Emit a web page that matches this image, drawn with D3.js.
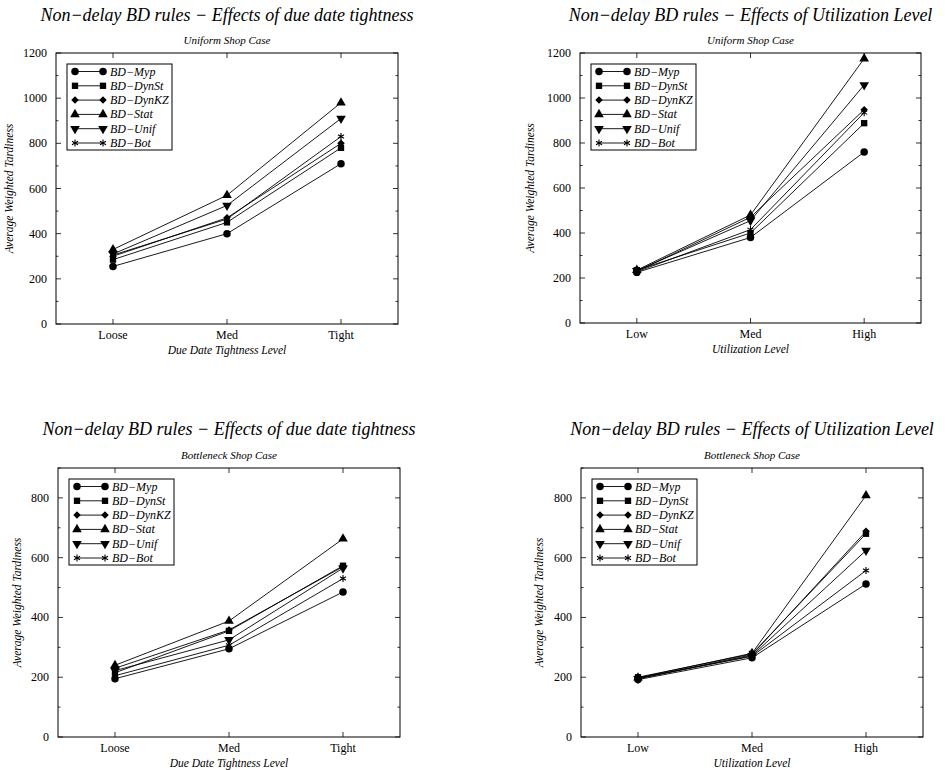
<!DOCTYPE html>
<html>
<head>
<meta charset="utf-8">
<script src="https://cdn.jsdelivr.net/npm/d3@7/dist/d3.min.js"></script>
<style>
  body { margin: 0; background: #fff; }
</style>
</head>
<body>
<div id="chart"></div>
<script>
// ---- data ----
var rules = ["BD\u2212Myp", "BD\u2212DynSt", "BD\u2212DynKZ", "BD\u2212Stat", "BD\u2212Unif", "BD\u2212Bot"];
var dueLevels = ["Loose", "Med", "Tight"];
var utilLevels = ["Low", "Med", "High"];

// Uniform shop, due date tightness (Loose, Med, Tight) per rule
var uniformDue = [
  [255, 400, 710],
  [285, 450, 780],
  [300, 470, 800],
  [330, 570, 980],
  [310, 525, 910],
  [305, 465, 830]
];
// Uniform shop, utilization (Low, Med, High)
var uniformUtil = [
  [225, 380, 760],
  [235, 400, 888],
  [230, 470, 948],
  [235, 480, 1175],
  [232, 455, 1058],
  [228, 415, 935]
];
// Bottleneck shop, due date tightness
var bottleDue = [
  [195, 295, 485],
  [215, 355, 573],
  [230, 358, 570],
  [240, 388, 663],
  [222, 325, 565],
  [205, 307, 530]
];
// Bottleneck shop, utilization
var bottleUtil = [
  [192, 265, 512],
  [200, 278, 680],
  [195, 275, 688],
  [198, 280, 808],
  [195, 272, 624],
  [197, 270, 557]
];

var panels = [
  {left: 56, top: 53, right: 398, bottom: 324, ymax: 1200, cats: dueLevels, data: uniformDue,
   title: "Non\u2212delay BD rules \u2212 Effects of due date tightness", sub: "Uniform Shop Case",
   xlab: "Due Date Tightness Level", titleY: 21, ylabX: 13},
  {left: 580, top: 53, right: 921, bottom: 323, ymax: 1200, cats: utilLevels, data: uniformUtil,
   title: "Non\u2212delay BD rules \u2212 Effects of Utilization Level", sub: "Uniform Shop Case",
   xlab: "Utilization Level", titleY: 21, ylabX: 534},
  {left: 58, top: 468, right: 400, bottom: 737, ymax: 900, cats: dueLevels, data: bottleDue,
   title: "Non\u2212delay BD rules \u2212 Effects of due date tightness", sub: "Bottleneck Shop Case",
   xlab: "Due Date Tightness Level", titleY: 435, ylabX: 21},
  {left: 581, top: 468, right: 923, bottom: 737, ymax: 900, cats: utilLevels, data: bottleUtil,
   title: "Non\u2212delay BD rules \u2212 Effects of Utilization Level", sub: "Bottleneck Shop Case",
   xlab: "Utilization Level", titleY: 435, ylabX: 543}
];

var symbols = [d3.symbolCircle, d3.symbolSquare, d3.symbolDiamond2, d3.symbolTriangle, d3.symbolTriangle, d3.symbolAsterisk];
var symSizes = [44, 40, 36, 40, 40, 34];

var svg = d3.select("#chart").append("svg")
    .attr("width", 945)
    .attr("height", 770)
    .attr("font-family", "'Liberation Serif', 'Times New Roman', 'DejaVu Serif', serif");

function marker(g, i, x, y) {
  var m = g.append("path")
      .attr("d", d3.symbol().type(symbols[i]).size(symSizes[i])())
      .attr("transform", "translate(" + x + "," + y + ")" + (i == 4 ? "rotate(180)" : ""));
  if (i == 5) m.attr("fill", "none").attr("stroke", "#000").attr("stroke-width", 1.1);
  else m.attr("fill", "#000");
}

panels.forEach(function(p) {
  var g = svg.append("g");
  var cx = (p.left + p.right) / 2;

  var x = d3.scalePoint().domain(p.cats).range([p.left, p.right]).padding(0.5);
  var y = d3.scaleLinear().domain([0, p.ymax]).range([p.bottom, p.top]);

  // titles
  g.append("text").attr("x", cx).attr("y", p.titleY)
      .attr("text-anchor", "middle").attr("font-style", "italic").attr("font-size", "18px")
      .text(p.title);
  g.append("text").attr("x", cx).attr("y", p.top - 9)
      .attr("text-anchor", "middle").attr("font-style", "italic").attr("font-size", "11px")
      .text(p.sub);

  // frame
  g.append("rect").attr("x", p.left).attr("y", p.top)
      .attr("width", p.right - p.left).attr("height", p.bottom - p.top)
      .attr("fill", "none").attr("stroke", "#000").attr("stroke-width", 1);

  // y ticks (inward, mirrored), minor every 100
  var minor = d3.range(0, p.ymax + 1, 100);
  g.selectAll("line.ytick").data(minor).enter().append("line")
      .attr("x1", p.left).attr("x2", function(d) { return p.left + (d % 200 ? 2.5 : 5); })
      .attr("y1", function(d) { return y(d); }).attr("y2", function(d) { return y(d); })
      .attr("stroke", "#000").attr("stroke-width", 0.8);
  g.selectAll("line.ytick2").data(minor).enter().append("line")
      .attr("x1", p.right).attr("x2", function(d) { return p.right - (d % 200 ? 2.5 : 5); })
      .attr("y1", function(d) { return y(d); }).attr("y2", function(d) { return y(d); })
      .attr("stroke", "#000").attr("stroke-width", 0.8);
  g.selectAll("text.ylab").data(d3.range(0, p.ymax + 1, 200)).enter().append("text")
      .attr("x", p.left - 9).attr("y", function(d) { return y(d) + 4; })
      .attr("text-anchor", "end").attr("font-size", "12px")
      .text(function(d) { return d; });

  // x ticks
  p.cats.forEach(function(c) {
    g.append("line").attr("x1", x(c)).attr("x2", x(c)).attr("y1", p.bottom).attr("y2", p.bottom - 5)
        .attr("stroke", "#000").attr("stroke-width", 0.8);
    g.append("line").attr("x1", x(c)).attr("x2", x(c)).attr("y1", p.top).attr("y2", p.top + 5)
        .attr("stroke", "#000").attr("stroke-width", 0.8);
    g.append("text").attr("x", x(c)).attr("y", p.bottom + 15)
        .attr("text-anchor", "middle").attr("font-size", "12px").text(c);
  });

  // axis labels
  g.append("text").attr("x", cx).attr("y", p.bottom + 30)
      .attr("text-anchor", "middle").attr("font-style", "italic").attr("font-size", "11.5px")
      .text(p.xlab);
  g.append("text")
      .attr("transform", "translate(" + p.ylabX + "," + ((p.top + p.bottom) / 2) + ")rotate(-90)")
      .attr("text-anchor", "middle").attr("font-style", "italic").attr("font-size", "11.5px")
      .text("Average Weighted Tardiness");

  // series
  var line = d3.line().x(function(d, i) { return x(p.cats[i]); }).y(function(d) { return y(d); });
  p.data.forEach(function(vals, i) {
    g.append("path").attr("d", line(vals))
        .attr("fill", "none").attr("stroke", "#000").attr("stroke-width", 0.9);
    vals.forEach(function(v, j) { marker(g, i, x(p.cats[j]), y(v)); });
  });

  // legend
  var lx = p.left + 11, ly = p.top + 11;
  g.append("rect").attr("x", lx).attr("y", ly).attr("width", 105).attr("height", 86)
      .attr("fill", "#fff").attr("stroke", "#000").attr("stroke-width", 1);
  rules.forEach(function(r, i) {
    var yy = ly + 7.5 + i * 14.3;
    g.append("line").attr("x1", lx + 8).attr("x2", lx + 36).attr("y1", yy).attr("y2", yy)
        .attr("stroke", "#000").attr("stroke-width", 0.9);
    marker(g, i, lx + 8, yy);
    marker(g, i, lx + 36, yy);
    g.append("text").attr("x", lx + 43).attr("y", yy + 4)
        .attr("font-style", "italic").attr("font-size", "12px").text(r);
  });
});
</script>
</body>
</html>
